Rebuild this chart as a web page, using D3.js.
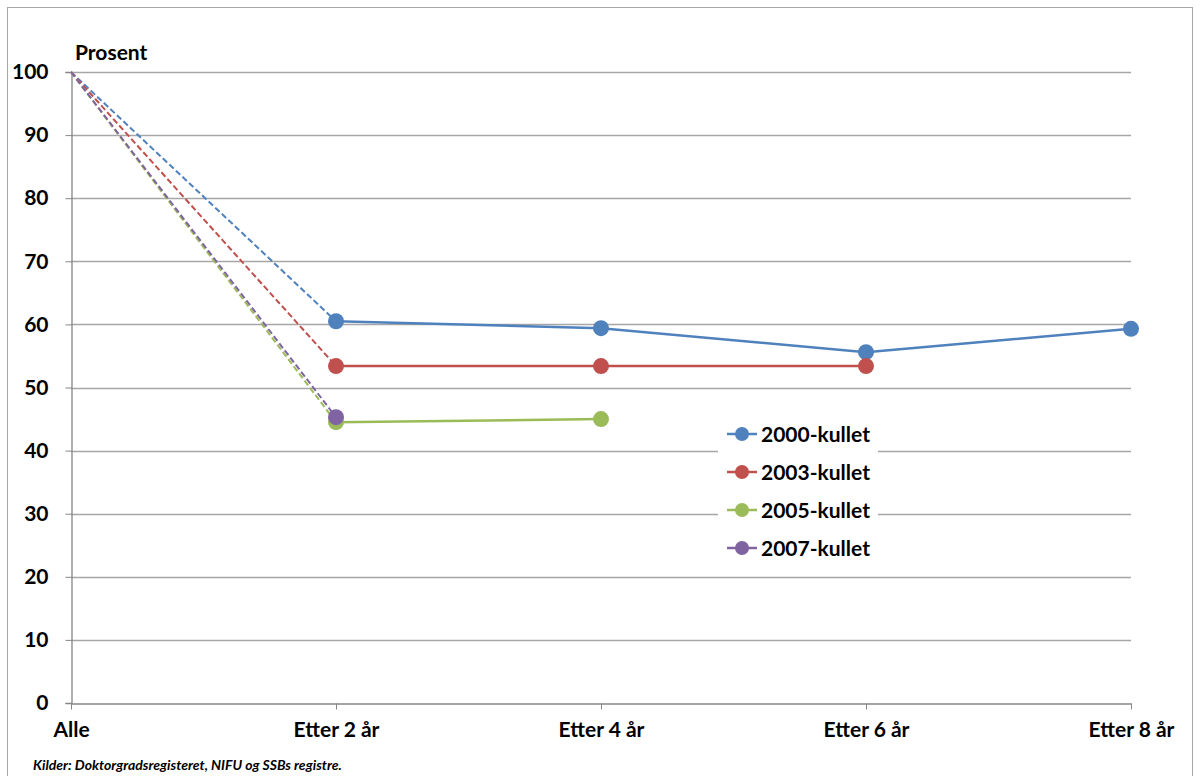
<!DOCTYPE html>
<html><head><meta charset="utf-8">
<script src="https://cdn.jsdelivr.net/npm/d3@7"></script>
<style>body{margin:0;background:#fff}svg text{font-family:Lato,"Open Sans",sans-serif;font-weight:bold}</style>
</head><body><svg id="c" width="1200" height="776"></svg>
<script>
const categories = ["Alle","Etter 2 år","Etter 4 år","Etter 6 år","Etter 8 år"];
const seriesNames = ["2000-kullet","2003-kullet","2005-kullet","2007-kullet"];
const colors = ["#4f81bd","#c0504d","#9bbb59","#8064a2"];
const values2000 = [100, 60.5, 59.4, 55.6, 59.3];
const values2003 = [100, 53.4, 53.4, 53.4, null];
const values2005 = [100, 44.5, 45.0, null, null];
const values2007 = [100, 45.3, null, null, null];
const yTicks = [0,10,20,30,40,50,60,70,80,90,100];
const seriesValues = [values2000, values2003, values2005, values2007];

const svg = d3.select("#c");
svg.append("rect").attr("x",7.5).attr("y",7.5).attr("width",1185).attr("height",780)
  .attr("fill","#fff").attr("stroke","#a6a6a6").attr("stroke-width",1);

const x = d3.scalePoint().domain(categories).range([71,1131]);
const y = d3.scaleLinear().domain([0,100]).range([703,72]);

// grid
svg.append("g").selectAll("line").data(yTicks.filter(d=>d>0)).join("line")
  .attr("x1",71).attr("x2",1131).attr("y1",d=>Math.round(y(d))+0.5).attr("y2",d=>Math.round(y(d))+0.5)
  .attr("stroke","#a6a6a6").attr("stroke-width",1.3);

// y axis
const ya = svg.append("g").attr("transform","translate(71.5,0)")
  .call(d3.axisLeft(y).tickValues(yTicks).tickSize(6).tickPadding(17).tickFormat(d3.format("d")));
ya.select(".domain").attr("stroke","#868686").attr("stroke-width",1.3);
ya.selectAll(".tick line").attr("stroke","#868686");
ya.selectAll("text").attr("font-size",21).attr("fill","#000").style("font-family","Lato,sans-serif").style("font-weight","bold");

// x axis
const xa = svg.append("g").attr("transform","translate(0,703.5)")
  .call(d3.axisBottom(x).tickSize(6).tickPadding(13).tickSizeOuter(0));
xa.select(".domain").attr("stroke","#868686").attr("stroke-width",1.3);
xa.selectAll(".tick line").attr("stroke","#868686");
xa.selectAll("text").attr("font-size",21).attr("fill","#000").attr("dy","0.71em").style("font-family","Lato,sans-serif").style("font-weight","bold");

svg.append("text").attr("x",75).attr("y",60).attr("font-size",21).text("Prosent");

// series
seriesValues.forEach((vals,i)=>{
  const pts = vals.map((v,j)=>({c:categories[j],v})).filter(d=>d.v!=null);
  const g = svg.append("g");
  g.append("line").attr("x1",x(pts[0].c)).attr("y1",y(pts[0].v)).attr("x2",x(pts[1].c)).attr("y2",y(pts[1].v))
    .attr("stroke",colors[i]).attr("stroke-width",2).attr("stroke-dasharray","6,3");
  if(pts.length>2){
    g.append("path").datum(pts.slice(1)).attr("fill","none").attr("stroke",colors[i]).attr("stroke-width",2.5)
      .attr("d",d3.line().x(d=>x(d.c)).y(d=>y(d.v)));
  }
  g.selectAll("circle").data(pts.slice(1)).join("circle")
    .attr("cx",d=>x(d.c)).attr("cy",d=>y(d.v)).attr("r",8).attr("fill",colors[i]);
});

// legend
const lg = svg.append("g");
lg.append("rect").attr("x",718).attr("y",415).attr("width",160).attr("height",152).attr("fill","#fff");
seriesNames.forEach((n,i)=>{
  const yy = 434 + i*38;
  lg.append("line").attr("x1",727).attr("x2",757).attr("y1",yy).attr("y2",yy).attr("stroke",colors[i]).attr("stroke-width",2.5);
  lg.append("circle").attr("cx",742).attr("cy",yy).attr("r",7).attr("fill",colors[i]);
  lg.append("text").attr("x",761).attr("y",yy).attr("dy","0.36em").attr("font-size",21).attr("fill","#000").text(n);
});

svg.append("text").attr("x",33).attr("y",770).attr("font-size",14).attr("font-style","italic").text("Kilder: Doktorgradsregisteret,  NIFU og SSBs registre.");
</script></body></html>
